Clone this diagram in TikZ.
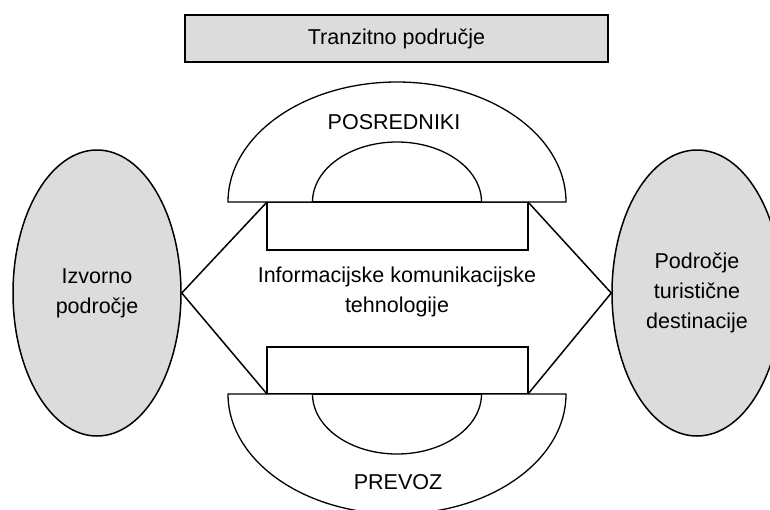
\documentclass[tikz,border=0pt]{standalone}
\usepackage{fontspec}
\setmainfont{Liberation Sans}
\usetikzlibrary{shapes.geometric}
\usetikzlibrary{positioning}

\begin{document}
\begin{tikzpicture}
            [x=1pt, y=-1pt,
            border/.style={line width=1.3pt},
            link/.style={line width=1.5pt},
            lbl/.style={align=center, font=\fontsize{21.5}{30}\selectfont},
            area/.style={ellipse, draw, line width=1.5pt, fill=areacolor, inner sep=0pt,
                minimum width=168pt, minimum height=286pt, lbl},
            slot/.style={draw, border, inner sep=0pt, outer sep=0pt,
                minimum width=261pt, minimum height=48pt},
            ]
            \definecolor{areacolor}{RGB}{220,220,220}
            \useasboundingbox (0,0) rectangle (770,509);

            % transit area on top
            \node[draw, line width=2.5pt, fill=areacolor, inner sep=0pt,
                minimum width=423pt, minimum height=47pt, lbl] (transit) at (396.5,38.5) {Tranzitno područje};

            % source and destination
            \node[area] (source) at (97,293) {Izvorno\\področje};
            \node[area, minimum width=170pt] (destination) at (697,293) {Področje\\turistične\\destinacije};

            % the two slots
            \node[slot, anchor=north west] (upper) at (267,202) {};
            \node[slot, anchor=south west, minimum height=47pt] (lower) at (267,394) {};

            % half rings: outer 169 x 120, inner 84.5 x 60
            \begin{scope}[shift={(397,202)}]
                \draw[border, fill=white] (-169,0) .. controls (-169,-66.3) and (-93.3,-120) .. (0,-120)
                    .. controls (93.3,-120) and (169,-66.3) .. (169,0) -- (84.5,0)
                    .. controls (84.5,-33.1) and (46.7,-60) .. (0,-60)
                    .. controls (-46.7,-60) and (-84.5,-33.1) .. (-84.5,0) -- cycle;
                \node[lbl] (agents) at (-3,-80) {POSREDNIKI};
            \end{scope}
            \begin{scope}[shift={(397,394)}]
                \draw[border, fill=white] (-169,0) .. controls (-169,66.3) and (-93.3,120) .. (0,120)
                    .. controls (93.3,120) and (169,66.3) .. (169,0) -- (84.5,0)
                    .. controls (84.5,33.1) and (46.7,60) .. (0,60)
                    .. controls (-46.7,60) and (-84.5,33.1) .. (-84.5,0) -- cycle;
                \node[lbl] (transport) at (1,88) {PREVOZ};
            \end{scope}

            \node[lbl] (ict) at (397,292) {Informacijske komunikacijske\\tehnologije};

            \draw[link] (source.east) -- (upper.north west);
            \draw[link] (source.east) -- (lower.south west);
            \draw[link] (destination.west) -- (upper.north east);
            \draw[link] (destination.west) -- (lower.south east);
        \end{tikzpicture}
\end{document}
